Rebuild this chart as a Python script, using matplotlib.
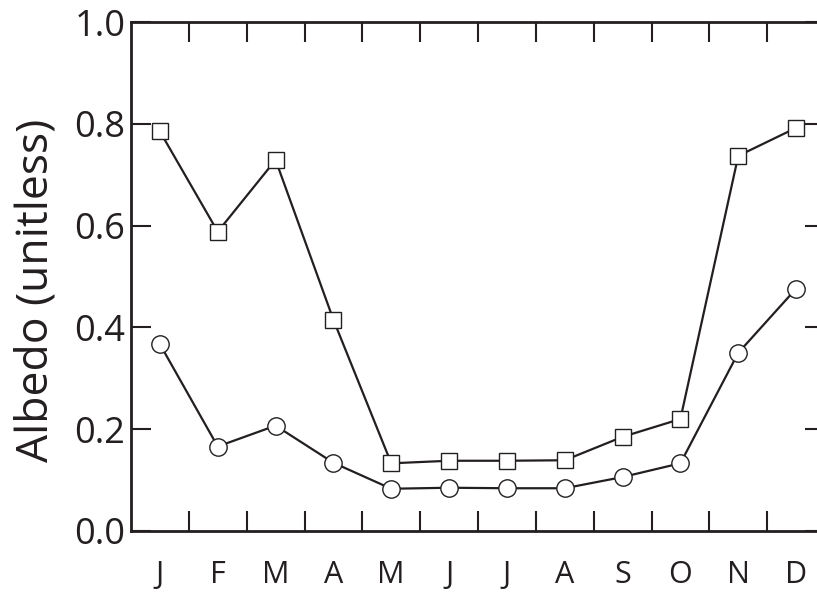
import matplotlib
matplotlib.use("Agg")
import matplotlib.pyplot as plt
import numpy as np

months = ["J", "F", "M", "A", "M", "J", "J", "A", "S", "O", "N", "D"]
albedo_squares = [0.785, 0.588, 0.729, 0.415, 0.133, 0.138, 0.138, 0.139, 0.185, 0.220, 0.737, 0.792]
albedo_circles = [0.367, 0.166, 0.207, 0.134, 0.083, 0.085, 0.084, 0.084, 0.106, 0.133, 0.350, 0.476]
yticks = [0.0, 0.2, 0.4, 0.6, 0.8, 1.0]
ytick_labels = ["0.0", "0.2", "0.4", "0.6", "0.8", "1.0"]

plt.rcParams['font.family'] = ['Open Sans', 'DejaVu Sans']

W, H = 817, 592
fig = plt.figure(figsize=(W / 100, H / 100), dpi=100)
left, right, top, bottom = 131, 825, 22, 531
ax = fig.add_axes([left / W, (H - bottom) / H, (right - left) / W, (bottom - top) / H])

x = np.arange(len(months)) + 0.5
line_col = "#231f20"
ax.plot(x, albedo_squares, color=line_col, lw=1.6, marker="s", ms=11,
        mfc="white", mec=line_col, mew=1.0, zorder=3)
ax.plot(x, albedo_circles, color=line_col, lw=1.6, marker="o", ms=12.5,
        mfc="white", mec=line_col, mew=1.0, zorder=3)

ax.set_xlim(0, 12)
ax.set_ylim(0, 1.0)
ax.set_yticks(yticks)
ax.set_yticklabels(ytick_labels)
ax.set_xticks(np.arange(1, 12))
ax.set_xticklabels([])
ax.set_xticks(x, minor=True)
ax.set_xticklabels(months, minor=True)

ax.tick_params(axis="both", which="major", direction="in", length=14.5, width=1.5,
               color=line_col, top=True, right=True, labelsize=26, labelcolor=line_col)
ax.tick_params(axis="y", which="major", pad=4)
ax.tick_params(axis="x", which="minor", length=0, labelsize=22, pad=21, labelcolor=line_col)
for s in ax.spines.values():
    s.set_linewidth(2.0)
    s.set_color(line_col)

ax.set_ylabel("Albedo (unitless)", fontsize=32, color=line_col)
ax.yaxis.set_label_coords(-0.105, 0.473)

fig.savefig("out.png", dpi=100)
